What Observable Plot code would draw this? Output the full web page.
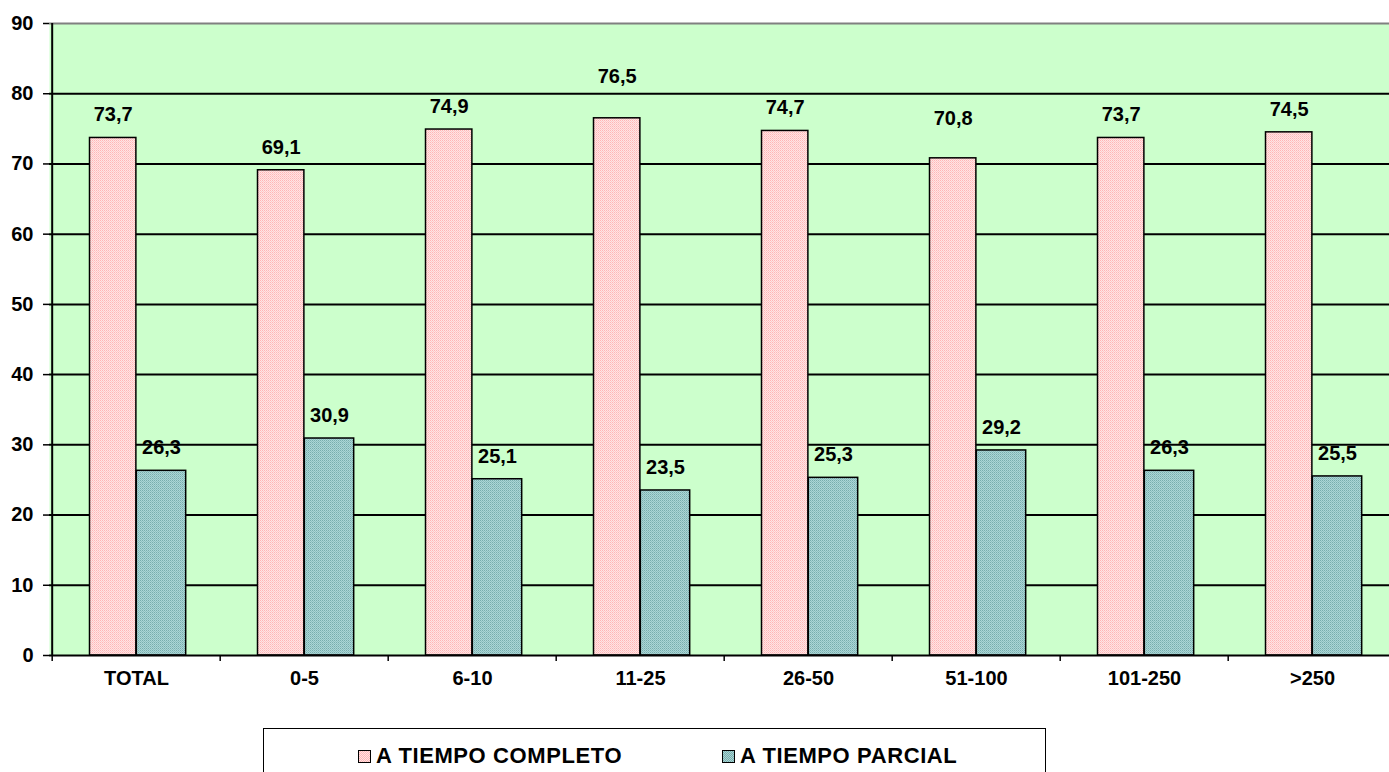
<!DOCTYPE html>
<html>
<head>
<meta charset="utf-8">
<script src="https://cdn.jsdelivr.net/npm/d3@7"></script>
<script src="https://cdn.jsdelivr.net/npm/@observablehq/plot@0.6"></script>
<style>
  html, body { margin: 0; padding: 0; background: #ffffff; }
  body { width: 1389px; height: 772px; overflow: hidden; position: relative; font-family: "Liberation Sans", Arial, sans-serif; }
  #chart svg text { font-weight: bold; fill: #000; }
  #legend { position: absolute; left: 263px; top: 728px; width: 783px; height: 70px; border: 1.5px solid #000; box-sizing: border-box; background: #fff; }
  .item { position: absolute; top: 14px; display: flex; align-items: center; font-weight: bold; font-size: 22px; letter-spacing: 0.6px; color: #000; }
  .sw { width: 11px; height: 11px; border: 1.5px solid #000; margin-right: 5px; }
</style>
</head>
<body>
<div id="chart"></div>
<div id="legend">
  <div class="item" style="left:94px"><span class="sw" id="sw0"></span><span id="lg0"></span></div>
  <div class="item" style="left:458px"><span class="sw" id="sw1"></span><span id="lg1"></span></div>
</div>
<script>
const categories = ["TOTAL", "0-5", "6-10", "11-25", "26-50", "51-100", "101-250", ">250"];
const seriesNames = ["A TIEMPO COMPLETO", "A TIEMPO PARCIAL"];
const completo = [73.7, 69.1, 74.9, 76.5, 74.7, 70.8, 73.7, 74.5];
const parcial = [26.3, 30.9, 25.1, 23.5, 25.3, 29.2, 26.3, 25.5];
const yTicks = [0, 10, 20, 30, 40, 50, 60, 70, 80, 90];

// label placement tweaks (pixels above bar top), kept separate from data
const liftDefault = 23;
const liftCompleto = {"11-25": 42, "51-100": 40};

const fmt = v => d3.format(".1f")(v).replace(".", ",");
const rowsC = categories.map((c, i) => ({cat: c, v: completo[i]}));
const rowsP = categories.map((c, i) => ({cat: c, v: parcial[i]}));

const step = (1398 - 49) / categories.length;
const half = step / 2;
const pinkL = 37.5, pinkW = 47;
const blueL = half, blueW = 50;

const normalC = rowsC.filter(d => !(d.cat in liftCompleto));
const liftedC = rowsC.filter(d => d.cat in liftCompleto);

const chart = Plot.plot({
  width: 1389,
  height: 700,
  marginLeft: 49,
  marginRight: 0,
  marginTop: 23,
  marginBottom: 45,
  style: {fontFamily: "'Liberation Sans', Arial, sans-serif", fontSize: "20px", background: "transparent"},
  x: {domain: categories, range: [49, 1398], padding: 0, axis: null},
  y: {domain: [0, 90], axis: null},
  marks: [
    Plot.frame({fill: "#CCFFCC", stroke: null}),
    Plot.ruleY(yTicks.filter(t => t > 0 && t < 90), {stroke: "#000", strokeWidth: 2}),
    Plot.ruleY([90], {stroke: "#808080", strokeWidth: 2}),
    Plot.barY(rowsC, {x: "cat", y: "v", fill: "url(#patPink)", stroke: "#000", strokeWidth: 1.5,
      insetLeft: pinkL, insetRight: step - pinkL - pinkW}),
    Plot.barY(rowsP, {x: "cat", y: "v", fill: "url(#patBlue)", stroke: "#000", strokeWidth: 1.5,
      insetLeft: blueL, insetRight: step - blueL - blueW}),
    Plot.ruleY([0], {stroke: "#000", strokeWidth: 2}),
    Plot.ruleX([categories[0]], {y1: 0, y2: 90, dx: -half, stroke: "#000", strokeWidth: 2}),
    Plot.axisY({ticks: yTicks, label: null, tickSize: 6, tickPadding: 10, tickFormat: d => String(d), fontSize: 20, fontWeight: "bold", stroke: "#000", strokeWidth: 1.5}),
    Plot.axisX({label: null, tickSize: 6, tickFormat: () => "", dx: -half, stroke: "#000", strokeWidth: 1.5}),
    Plot.axisX({label: null, tickSize: 0, tickPadding: 15, fontSize: 20, fontWeight: "bold"}),
    Plot.text(normalC, {x: "cat", y: "v", text: d => fmt(d.v), dx: pinkL + pinkW / 2 - half, dy: -liftDefault, fontSize: 20, fontWeight: "bold"}),
    ...liftedC.map(d => Plot.text([d], {x: "cat", y: "v", text: r => fmt(r.v), dx: pinkL + pinkW / 2 - half, dy: -liftCompleto[d.cat], fontSize: 20, fontWeight: "bold"})),
    Plot.text(rowsP, {x: "cat", y: "v", text: d => fmt(d.v), dx: blueL + blueW / 2 - half, dy: -liftDefault, fontSize: 20, fontWeight: "bold"})
  ]
});

d3.select(chart).insert("defs", ":first-child").html(`
  <pattern id="patPink" width="2" height="2" patternUnits="userSpaceOnUse">
    <rect width="2" height="2" fill="#FFE4E4"/>
    <rect x="0" y="0" width="1" height="1" fill="#FFB6B6"/>
    <rect x="1" y="1" width="1" height="1" fill="#FFC9C9"/>
  </pattern>
  <pattern id="patBlue" width="2" height="2" patternUnits="userSpaceOnUse">
    <rect width="2" height="2" fill="#ABD6D6"/>
    <rect x="0" y="0" width="1" height="1" fill="#78ADAD"/>
    <rect x="1" y="1" width="1" height="1" fill="#8EBFBF"/>
  </pattern>`);

document.getElementById("chart").appendChild(chart);

document.getElementById("lg0").textContent = seriesNames[0];
document.getElementById("lg1").textContent = seriesNames[1];
document.getElementById("sw0").style.background = "repeating-conic-gradient(#FFB6B6 0 25%, #FFE4E4 0 50%) 0 0 / 2px 2px";
document.getElementById("sw1").style.background = "repeating-conic-gradient(#78ADAD 0 25%, #ABD6D6 0 50%) 0 0 / 2px 2px";
</script>
</body>
</html>
